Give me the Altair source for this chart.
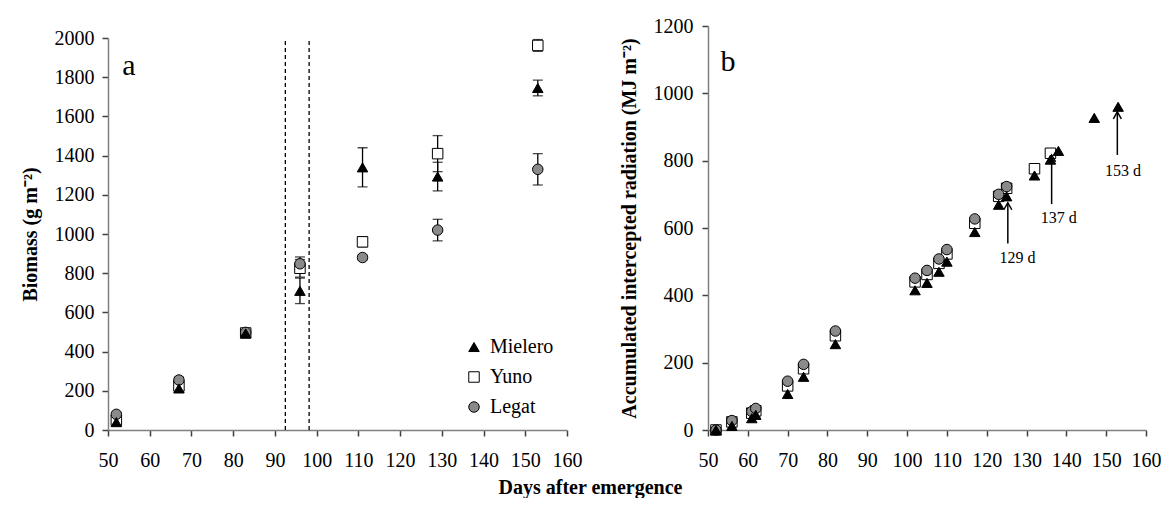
import altair as alt
import pandas as pd

FONT = "Liberation Serif"
varieties = ["Mielero", "Yuno", "Legat"]

# ---------- Panel a: biomass ----------
days_a = [52, 67, 83, 96, 111, 129, 153]
mielero_bio = [40, 212, 493, 710, 1340, 1293, 1745]
mielero_err = [12, 18, 10, 65, 100, 73, 40]
yuno_bio = [50, 225, 495, 825, 960, 1410, 1962]
yuno_err = [12, 20, 10, 45, 26, 92, 30]
legat_bio = [80, 255, 498, 848, 880, 1020, 1330]
legat_err = [10, 15, 8, 35, 12, 55, 80]
flower_lines = [92.5, 98.2]

# ---------- Panel b: accumulated intercepted radiation ----------
days_legat_b = [52, 56, 61, 62, 70, 74, 82, 102, 105, 108, 110, 117, 123, 125]
legat_rad = [0, 28, 55, 64, 145, 195, 294, 451, 474, 508, 536, 627, 700, 723]
days_yuno_b = days_legat_b + [132, 136]
yuno_rad = [0, 24, 50, 57, 131, 182, 280, 440, 462, 495, 523, 614, 694, 718, 776, 822]
days_mielero_b = days_legat_b + [132, 136, 138, 147, 153]
mielero_rad = [0, 12, 35, 45, 107, 158, 255, 415, 437, 470, 500, 588, 669, 694,
               756, 803, 829, 927, 960]

arrow_x = [125.3, 136.3, 152.8]
arrow_from = [554, 671, 817]
arrow_to = [675, 817, 945]
arrow_text = ["129 d", "137 d", "153 d"]
arrow_text_x = [127.7, 138.1, 154.2]
arrow_text_y = [510, 629, 770]

# ---------- tables ----------
rows = []
for name, vals, errs in [("Yuno", yuno_bio, yuno_err), ("Legat", legat_bio, legat_err),
                         ("Mielero", mielero_bio, mielero_err)]:
    for d, v, e in zip(days_a, vals, errs):
        rows.append({"day": d, "value": v, "lo": v - e, "hi": v + e, "variety": name})
df_a = pd.DataFrame(rows)
df_lines = pd.DataFrame({"day": flower_lines, "y0": [0, 0], "y1": [2000, 2000]})

rows_b = []
for name, ds, vals in [("Yuno", days_yuno_b, yuno_rad), ("Legat", days_legat_b, legat_rad),
                       ("Mielero", days_mielero_b, mielero_rad)]:
    for d, v in zip(ds, vals):
        rows_b.append({"day": d, "value": v, "variety": name})
df_b = pd.DataFrame(rows_b)
df_arrows = pd.DataFrame({"day": arrow_x, "y0": arrow_from, "y1": arrow_to})
df_atext = pd.DataFrame({"day": arrow_text_x, "y": arrow_text_y, "t": arrow_text})

axis_common = dict(labelFont=FONT, titleFont=FONT, labelFontSize=20, titleFontSize=20,
                   titleFontWeight="bold", labelColor="black", titleColor="black",
                   domainColor="#808080", tickColor="#404040", domainWidth=1.5,
                   tickWidth=1.5, grid=False, format="d", labelOverlap=False,
                   labelFlush=False)

x_scale = alt.Scale(domain=[50, 160], nice=False, zero=False)
x_axis = alt.Axis(values=list(range(50, 161, 10)), title=None, tickSize=6, labelPadding=14,
                  **axis_common)


def X(field):
    return alt.X(field, scale=x_scale, axis=x_axis)


shape_scale = alt.Scale(domain=varieties, range=["triangle-up", "square", "circle"])
fill_scale = alt.Scale(domain=varieties, range=["black", "white", "#8a8a8a"])
stroke_scale = alt.Scale(domain=varieties, range=["black", "black", "black"])

leg = alt.Legend(title=None, orient="none", legendX=356, legendY=311, labelFontSize=20,
                 labelFont=FONT, labelColor="black", symbolSize=110, rowPadding=10,
                 labelOffset=6, symbolStrokeWidth=1)

# ----- panel a -----
ya_scale = alt.Scale(domain=[0, 2000], nice=False, zero=True, range=[404, 12])
ya_axis = alt.Axis(values=list(range(0, 2001, 200)), title="Biomass (g m⁻²)",
                   tickSize=6, labelPadding=8, titlePadding=14, **axis_common)


def YA(field):
    return alt.Y(field, scale=ya_scale, axis=ya_axis)


base_a = alt.Chart(df_a)
lines_a = alt.Chart(df_lines).mark_rule(color="black", strokeDash=[4, 3], strokeWidth=1.3).encode(
    x=X("day:Q"), y=YA("y0:Q"), y2="y1:Q")
err_a = base_a.mark_rule(color="black", strokeWidth=1.3).encode(
    x=X("day:Q"), y=YA("lo:Q"), y2="hi:Q")
cap_lo = base_a.mark_tick(orient="horizontal", size=10, thickness=1.3, color="black").encode(
    x=X("day:Q"), y=YA("lo:Q"))
cap_hi = base_a.mark_tick(orient="horizontal", size=10, thickness=1.3, color="black").encode(
    x=X("day:Q"), y=YA("hi:Q"))
pts_a = base_a.mark_point(filled=True, strokeWidth=1, size=110, opacity=1).encode(
    x=X("day:Q"), y=YA("value:Q"),
    shape=alt.Shape("variety:N", scale=shape_scale, legend=leg),
    fill=alt.Fill("variety:N", scale=fill_scale, legend=leg),
    stroke=alt.Stroke("variety:N", scale=stroke_scale, legend=leg),
)
lab_a = alt.Chart(pd.DataFrame({"day": [55], "y": [1811], "t": ["a"]})).mark_text(
    font=FONT, fontSize=30, color="black", align="center", baseline="alphabetic").encode(
    x=X("day:Q"), y=YA("y:Q"), text="t:N")

panel_a = alt.layer(lines_a, err_a, cap_lo, cap_hi, pts_a, lab_a).properties(width=459, height=404)

# ----- panel b -----
yb_scale = alt.Scale(domain=[0, 1200], nice=False, zero=True)
yb_axis = alt.Axis(values=list(range(0, 1201, 200)),
                   title="Accumulated intercepted radiation (MJ m⁻²)",
                   tickSize=6, labelPadding=9, titlePadding=14, **axis_common)


def YB(field):
    return alt.Y(field, scale=yb_scale, axis=yb_axis)


pts_b = alt.Chart(df_b).mark_point(filled=True, strokeWidth=1, size=110, opacity=1).encode(
    x=X("day:Q"), y=YB("value:Q"),
    shape=alt.Shape("variety:N", scale=shape_scale, legend=None),
    fill=alt.Fill("variety:N", scale=fill_scale, legend=None),
    stroke=alt.Stroke("variety:N", scale=stroke_scale, legend=None),
)
arr_line = alt.Chart(df_arrows).mark_rule(color="black", strokeWidth=1.5).encode(
    x=X("day:Q"), y=YB("y0:Q"), y2="y1:Q")
arr_head = alt.Chart(df_arrows).mark_point(
    shape="M-0.8,1.4L0,0L0.8,1.4", filled=False, stroke="black", strokeWidth=1.5,
    size=100, opacity=1).encode(x=X("day:Q"), y=YB("y1:Q"))
arr_txt = alt.Chart(df_atext).mark_text(font=FONT, fontSize=16, color="black",
                                        align="center", baseline="middle").encode(
    x=X("day:Q"), y=YB("y:Q"), text="t:N")
lab_b = alt.Chart(pd.DataFrame({"day": [55], "y": [1065], "t": ["b"]})).mark_text(
    font=FONT, fontSize=30, color="black", align="center", baseline="alphabetic").encode(
    x=X("day:Q"), y=YB("y:Q"), text="t:N")

panel_b = alt.layer(pts_b, arr_line, arr_head, arr_txt, lab_b).properties(width=438, height=404)

chart = alt.hconcat(panel_a, panel_b, spacing=141, bounds="flush").resolve_scale(
    shape="independent", fill="independent", stroke="independent",
    x="independent", y="independent"
).resolve_legend(shape="independent", fill="independent", stroke="independent").properties(
    title=alt.TitleParams("Days after emergence", orient="bottom", anchor="middle",
                          font=FONT, fontSize=20, fontWeight="bold", color="black", offset=8),
    padding={"left": 12, "top": 8, "right": 0, "bottom": 0},
).configure_view(stroke=None).configure_axis(
    labelFont=FONT, titleFont=FONT, labelOverlap=False, labelFlush=False
).configure_legend(labelFont=FONT)

chart.save("out.html", embed_options={"renderer": "svg", "actions": False})
